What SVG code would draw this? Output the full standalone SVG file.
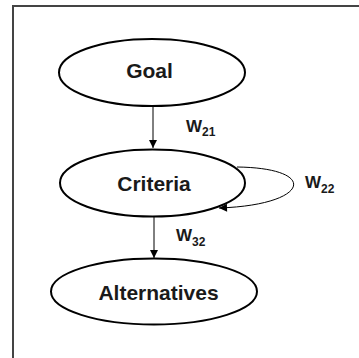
<svg xmlns="http://www.w3.org/2000/svg" width="359" height="358" viewBox="0 0 359 358">
<style>
.node{fill:#fff;stroke:#000;stroke-width:2}
.lbl{font-family:"Liberation Sans",Arial,sans-serif;font-weight:bold;fill:#1a1a1a;font-size:21px;text-anchor:middle}
.w{font-family:"Liberation Sans",Arial,sans-serif;font-weight:bold;fill:#1a1a1a;font-size:17px}
.sub{font-size:12px}
.edge{fill:none;stroke:#000;stroke-width:1}
.frame{stroke:#444;stroke-width:2;fill:none}
</style>
<defs>
<marker id="arr" viewBox="0 0 10 10" refX="10" refY="5" markerWidth="9" markerHeight="8" markerUnits="userSpaceOnUse" orient="auto">
<path d="M0,0 L10,5 L0,10 z" fill="#000"/>
</marker>
</defs>
<path class="frame" d="M13,358 V6 H359"/>
<g id="connectors">
<line class="edge" x1="153" y1="106" x2="153" y2="148" marker-end="url(#arr)"/>
<line class="edge" x1="154" y1="217" x2="154" y2="258" marker-end="url(#arr)"/>
<path class="edge" d="M237,167 C320,168 310,205 219,208" marker-end="url(#arr)"/>
<text class="w" x="186" y="132">W<tspan class="sub" dy="4">21</tspan></text>
<text class="w" x="305" y="188">W<tspan class="sub" dy="5">22</tspan></text>
<text class="w" x="176" y="241">W<tspan class="sub" dy="5">32</tspan></text>
</g>
<g id="goal">
<ellipse class="node" cx="152" cy="72.5" rx="93" ry="33.5"/>
<text class="lbl" x="149.5" y="78">Goal</text>
</g>
<g id="criteria">
<ellipse class="node" cx="152.5" cy="183" rx="92.5" ry="33.5"/>
<text class="lbl" x="154" y="190.5">Criteria</text>
</g>
<g id="alternatives">
<ellipse class="node" cx="154" cy="291.5" rx="103" ry="33"/>
<text class="lbl" x="158.5" y="299.5">Alternatives</text>
</g>
</svg>
